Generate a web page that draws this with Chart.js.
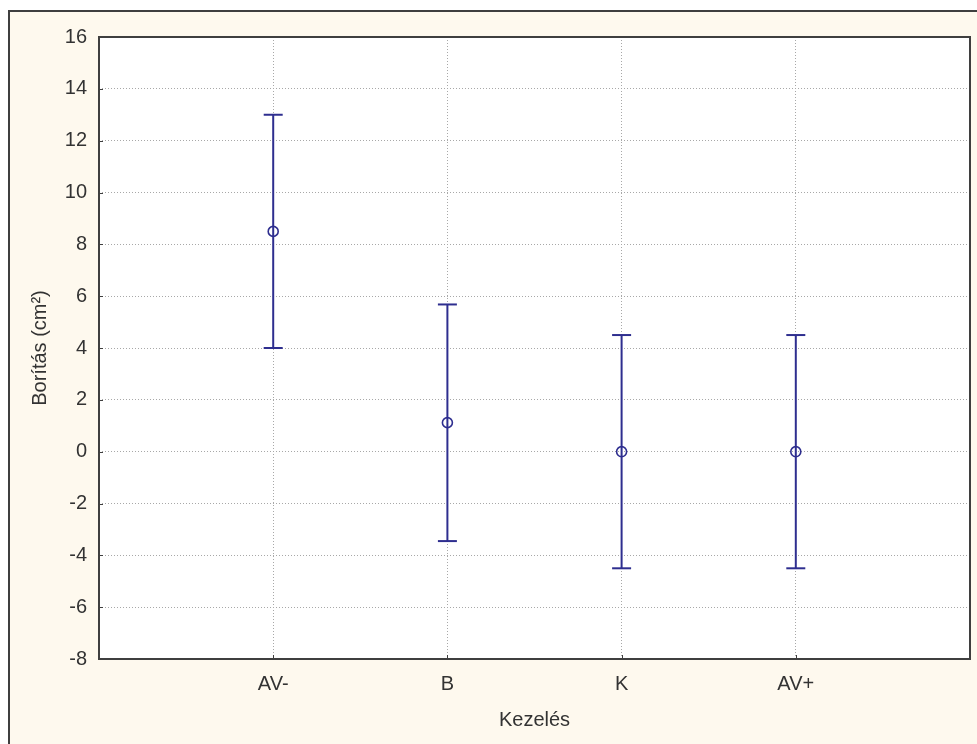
<!DOCTYPE html>
<html>
<head>
<meta charset="utf-8">
<script src="https://cdn.jsdelivr.net/npm/chart.js@4.4.1/dist/chart.umd.min.js"></script>
<style>
  html, body { margin: 0; padding: 0; background: #ffffff; }
  canvas { display: block; }
</style>
</head>
<body>
<canvas id="errChart" width="977" height="744"></canvas>
<script>
const categories = ["AV-", "B", "K", "AV+"];
const means = [8.5, 1.12, 0, 0];
const upper = [13.0, 5.68, 4.5, 4.5];
const lower = [4.0, -3.45, -4.5, -4.5];
const yMin = -8;
const yMax = 16;
const yStep = 2;

const navy = "#2e2e8f";
const textColor = "#333333";
const frameColor = "#3f3f3f";
const fontFamily = "'Liberation Sans', Arial, sans-serif";

// whiskers: one line dataset per category, caps drawn by the 'line' point style
let datasets = [];
for (let i = 0; i < categories.length; i++) {
    datasets.push({
        type: "line",
        data: [{x: i + 1, y: lower[i]}, {x: i + 1, y: upper[i]}],
        borderColor: navy,
        borderWidth: 2,
        showLine: true,
        pointStyle: "line",
        pointRadius: 9.5,
        pointBorderColor: navy,
        pointBorderWidth: 2,
        fill: false
    });
}
datasets.push({
    type: "scatter",
    data: means.map((m, i) => ({x: i + 1, y: m})),
    pointStyle: "circle",
    pointRadius: 5,
    pointBorderColor: navy,
    pointBackgroundColor: "rgba(0,0,0,0)",
    pointBorderWidth: 1.6
});

const framePlugin = {
    id: "frame",
    beforeDraw(chart) {
        const ctx = chart.ctx;
        const a = chart.chartArea;
        ctx.save();
        ctx.fillStyle = "#ffffff";
        ctx.fillRect(0, 0, chart.width, chart.height);
        ctx.fillStyle = "#fef9ee";
        ctx.fillRect(9, 11, chart.width - 9, chart.height - 11);
        ctx.strokeStyle = frameColor;
        ctx.lineWidth = 2;
        ctx.beginPath();
        ctx.moveTo(9, chart.height);
        ctx.lineTo(9, 11);
        ctx.lineTo(chart.width, 11);
        ctx.stroke();
        ctx.fillStyle = "#ffffff";
        ctx.fillRect(a.left, a.top, a.right - a.left, a.bottom - a.top);
        ctx.restore();
    },
    afterDatasetsDraw(chart) {
        const ctx = chart.ctx;
        const a = chart.chartArea;
        const xs = chart.scales.x;
        const ys = chart.scales.y;
        ctx.save();
        ctx.strokeStyle = frameColor;
        ctx.lineWidth = 1;
        ctx.beginPath();
        ys.ticks.forEach(t => {
            const py = Math.round(ys.getPixelForValue(t.value)) + 0.5;
            ctx.moveTo(a.left, py);
            ctx.lineTo(a.left + 4, py);
        });
        for (let i = 0; i < categories.length; i++) {
            const px = Math.round(xs.getPixelForValue(i + 1)) + 0.5;
            ctx.moveTo(px, a.bottom);
            ctx.lineTo(px, a.bottom - 4);
        }
        ctx.stroke();
        ctx.lineWidth = 2;
        ctx.strokeRect(a.left, a.top, a.right - a.left, a.bottom - a.top);
        ctx.restore();
    }
};

new Chart(document.getElementById("errChart"), {
    data: {datasets: datasets},
    options: {
        responsive: false,
        animation: false,
        devicePixelRatio: 1,
        layout: {autoPadding: false, padding: {left: 0, right: 7, top: 37, bottom: 0}},
        plugins: {
            legend: {display: false},
            tooltip: {enabled: false}
        },
        scales: {
            x: {
                type: "linear",
                min: 0,
                max: categories.length + 1,
                afterFit: s => { s.height = 85; s.paddingLeft = 0; s.paddingRight = 0; },
                ticks: {
                    stepSize: 1,
                    color: textColor,
                    padding: 13,
                    maxRotation: 0,
                    font: {family: fontFamily, size: 20},
                    callback: v => categories[v - 1] || ""
                },
                grid: {color: "#a8a8a8", lineWidth: 1, drawTicks: false},
                border: {display: false, dash: [1, 2]},
                title: {
                    display: true,
                    text: "Kezelés",
                    color: textColor,
                    padding: {top: 0, bottom: 12},
                    font: {family: fontFamily, size: 20}
                }
            },
            y: {
                type: "linear",
                min: yMin,
                max: yMax,
                afterFit: s => { s.width = 99; },
                ticks: {
                    stepSize: yStep,
                    color: textColor,
                    padding: 12,
                    font: {family: fontFamily, size: 20}
                },
                grid: {color: "#a8a8a8", lineWidth: 1, drawTicks: false},
                border: {display: false, dash: [1, 2]},
                title: {
                    display: true,
                    text: "Borítás (cm²)",
                    color: textColor,
                    padding: {top: 28, bottom: 0},
                    font: {family: fontFamily, size: 20}
                }
            }
        }
    },
    plugins: [framePlugin]
});
</script>
</body>
</html>
